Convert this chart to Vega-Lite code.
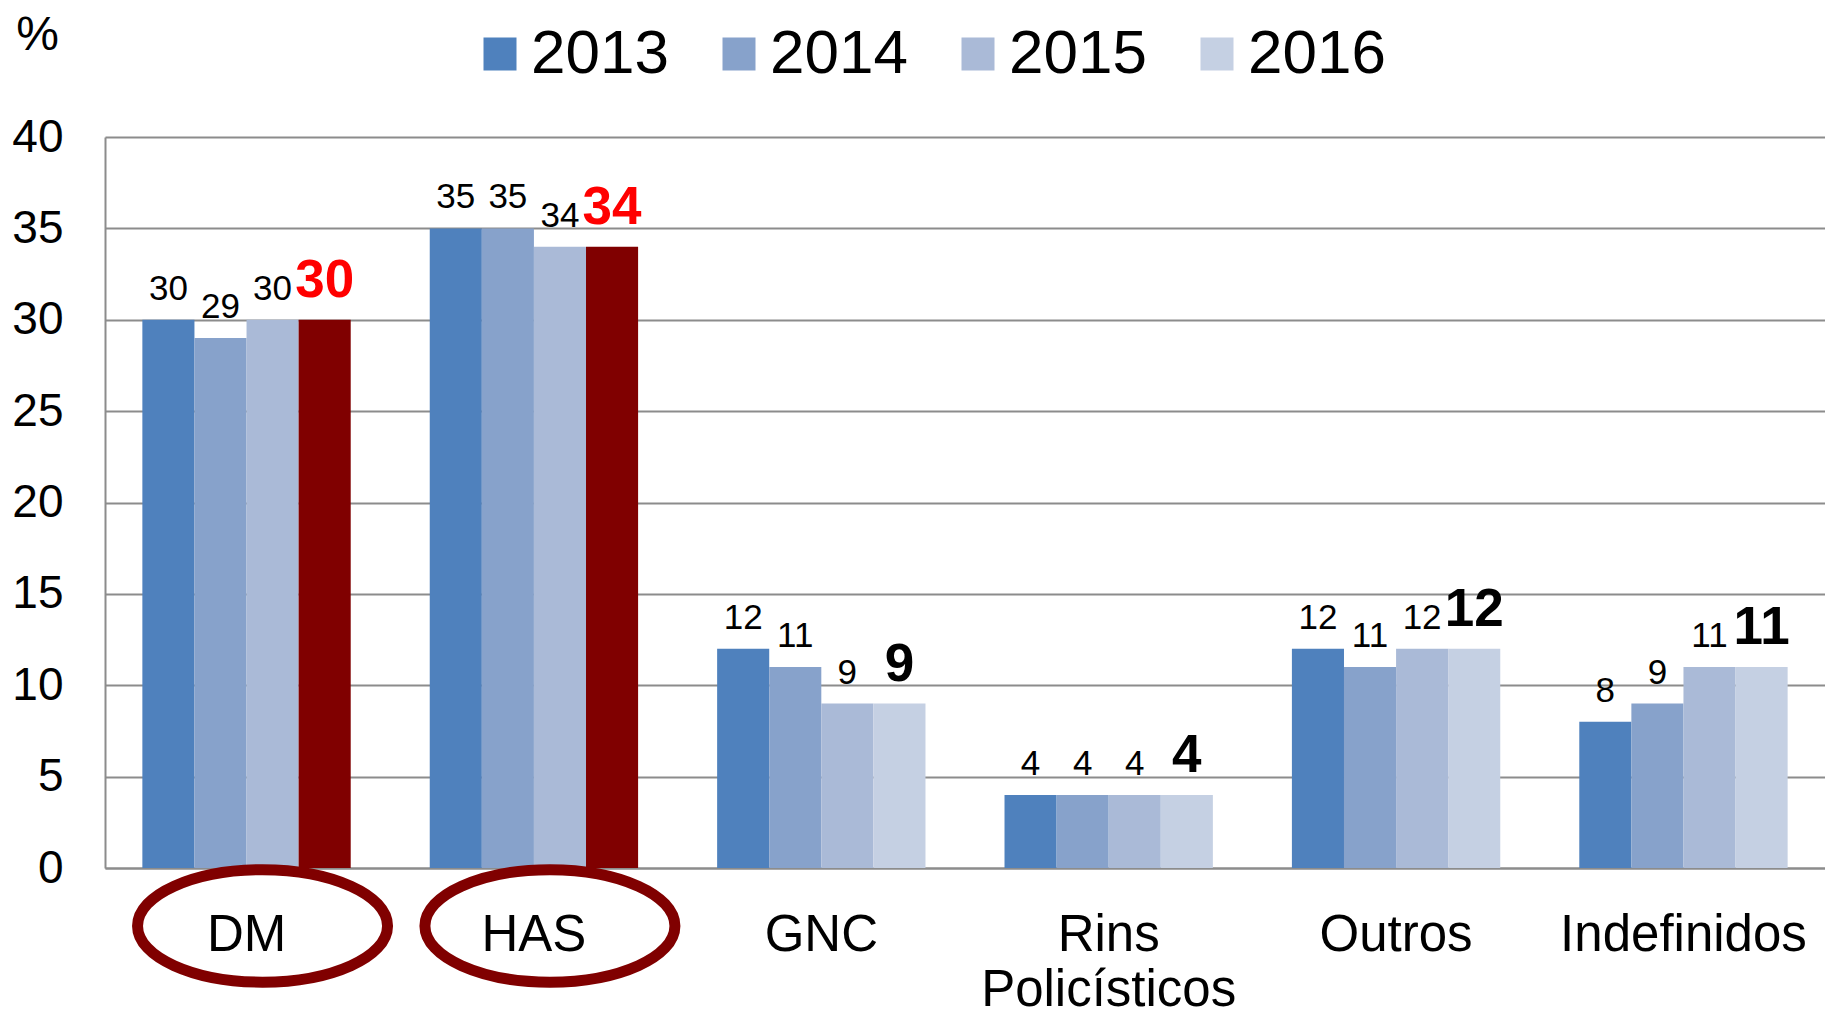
{
  "$schema": "https://vega.github.io/schema/vega-lite/v6.json",
  "width": 1720,
  "height": 731,
  "autosize": "none",
  "padding": {"left": 105, "top": 137, "right": 0, "bottom": 146},
  "background": "#ffffff",
  "config": {"font": "Liberation Sans", "view": {"stroke": null}},
  "data": {
    "values": [
      {"category": "DM", "year": "2013", "value": 30},
      {"category": "DM", "year": "2014", "value": 29},
      {"category": "DM", "year": "2015", "value": 30},
      {"category": "DM", "year": "2016", "value": 30},
      {"category": "HAS", "year": "2013", "value": 35},
      {"category": "HAS", "year": "2014", "value": 35},
      {"category": "HAS", "year": "2015", "value": 34},
      {"category": "HAS", "year": "2016", "value": 34},
      {"category": "GNC", "year": "2013", "value": 12},
      {"category": "GNC", "year": "2014", "value": 11},
      {"category": "GNC", "year": "2015", "value": 9},
      {"category": "GNC", "year": "2016", "value": 9},
      {"category": "Rins Policísticos", "year": "2013", "value": 4},
      {"category": "Rins Policísticos", "year": "2014", "value": 4},
      {"category": "Rins Policísticos", "year": "2015", "value": 4},
      {"category": "Rins Policísticos", "year": "2016", "value": 4},
      {"category": "Outros", "year": "2013", "value": 12},
      {"category": "Outros", "year": "2014", "value": 11},
      {"category": "Outros", "year": "2015", "value": 12},
      {"category": "Outros", "year": "2016", "value": 12},
      {"category": "Indefinidos", "year": "2013", "value": 8},
      {"category": "Indefinidos", "year": "2014", "value": 9},
      {"category": "Indefinidos", "year": "2015", "value": 11},
      {"category": "Indefinidos", "year": "2016", "value": 11}
    ]
  },
  "encoding": {
    "x": {
      "field": "category",
      "type": "nominal",
      "sort": ["DM", "HAS", "GNC", "Rins Policísticos", "Outros", "Indefinidos"],
      "scale": {"paddingInner": 0.275, "paddingOuter": 0.13},
      "axis": {
        "title": null,
        "labelAngle": 0,
        "labelFontSize": 51,
        "labelColor": "#000000",
        "labelPadding": 42,
        "labelBaseline": "top",
        "labelLineHeight": 55,
        "labelOverlap": false,
        "labelLimit": 0,
        "labelBound": false,
        "ticks": false,
        "domainColor": "#8c8c8c",
        "domainWidth": 2,
        "labelExpr": "datum.label == 'Rins Policísticos' ? ['Rins', 'Policísticos'] : datum.label"
      }
    }
  },
  "layer": [
    {
      "mark": {"type": "bar"},
      "encoding": {
        "xOffset": {"field": "year", "type": "nominal", "scale": {"paddingInner": 0, "paddingOuter": 0}},
        "y": {
          "field": "value",
          "type": "quantitative",
          "scale": {"domain": [0, 40], "nice": false},
          "axis": {
            "values": [0, 5, 10, 15, 20, 25, 30, 35, 40],
            "labelFontSize": 46,
            "labelColor": "#000000",
            "labelPadding": 42,
            "ticks": false,
            "domainColor": "#8c8c8c",
            "domainWidth": 2,
            "gridColor": "#8c8c8c",
            "gridWidth": 2,
            "title": "%",
            "titleAngle": 0,
            "titleX": -68,
            "titleY": -102,
            "titleAlign": "center",
            "titleBaseline": "middle",
            "titleFontSize": 48,
            "titleFontWeight": "normal",
            "titleColor": "#000000"
          }
        },
        "color": {
          "field": "year",
          "type": "nominal",
          "condition": {"test": "(datum.category == 'DM' || datum.category == 'HAS') && datum.year == '2016'", "value": "#800000"},
          "scale": {"domain": ["2013", "2014", "2015", "2016"], "range": ["#4f81bd", "#87a2cb", "#aabad7", "#c5d0e3"]},
          "legend": {
            "orient": "none",
            "legendX": 364,
            "legendY": -114,
            "direction": "horizontal",
            "title": null,
            "symbolType": "square",
            "symbolSize": 1089,
            "symbolStrokeWidth": 0,
            "labelFontSize": 62,
            "labelColor": "#000000",
            "labelOffset": 0,
            "columnPadding": 39,
            "padding": 0
          }
        }
      }
    },
    {
      "transform": [{"filter": "datum.year != '2016'"}],
      "mark": {"type": "text", "fontSize": 35, "dy": -20, "baseline": "alphabetic", "color": "#000000"},
      "encoding": {
        "xOffset": {"field": "year", "type": "nominal"},
        "y": {"field": "value", "type": "quantitative", "scale": {"domain": [0, 40], "nice": false}},
        "text": {"field": "value", "type": "quantitative"}
      }
    },
    {
      "transform": [{"filter": "datum.year == '2016'"}],
      "mark": {"type": "text", "fontSize": 53, "fontWeight": "bold", "dy": -23, "baseline": "alphabetic"},
      "encoding": {
        "xOffset": {"field": "year", "type": "nominal"},
        "y": {"field": "value", "type": "quantitative", "scale": {"domain": [0, 40], "nice": false}},
        "text": {"field": "value", "type": "quantitative"},
        "color": {"condition": {"test": "datum.category == 'DM' || datum.category == 'HAS'", "value": "#ff0000"}, "value": "#000000"}
      }
    },
    {
      "data": {"values": [{"category": "DM", "pos": -3.17}, {"category": "HAS", "pos": -3.17}]},
      "mark": {
        "type": "point",
        "shape": "M -1 0 C -1 -0.2485 -0.5523 -0.45 0 -0.45 C 0.5523 -0.45 1 -0.2485 1 0 C 1 0.2485 0.5523 0.45 0 0.45 C -0.5523 0.45 -1 0.2485 -1 0 Z",
        "size": 62500,
        "filled": false,
        "stroke": "#800000",
        "strokeWidth": 11,
        "opacity": 1,
        "xOffset": 16
      },
      "encoding": {
        "y": {"field": "pos", "type": "quantitative", "scale": {"domain": [0, 40], "nice": false}}
      }
    }
  ]
}
